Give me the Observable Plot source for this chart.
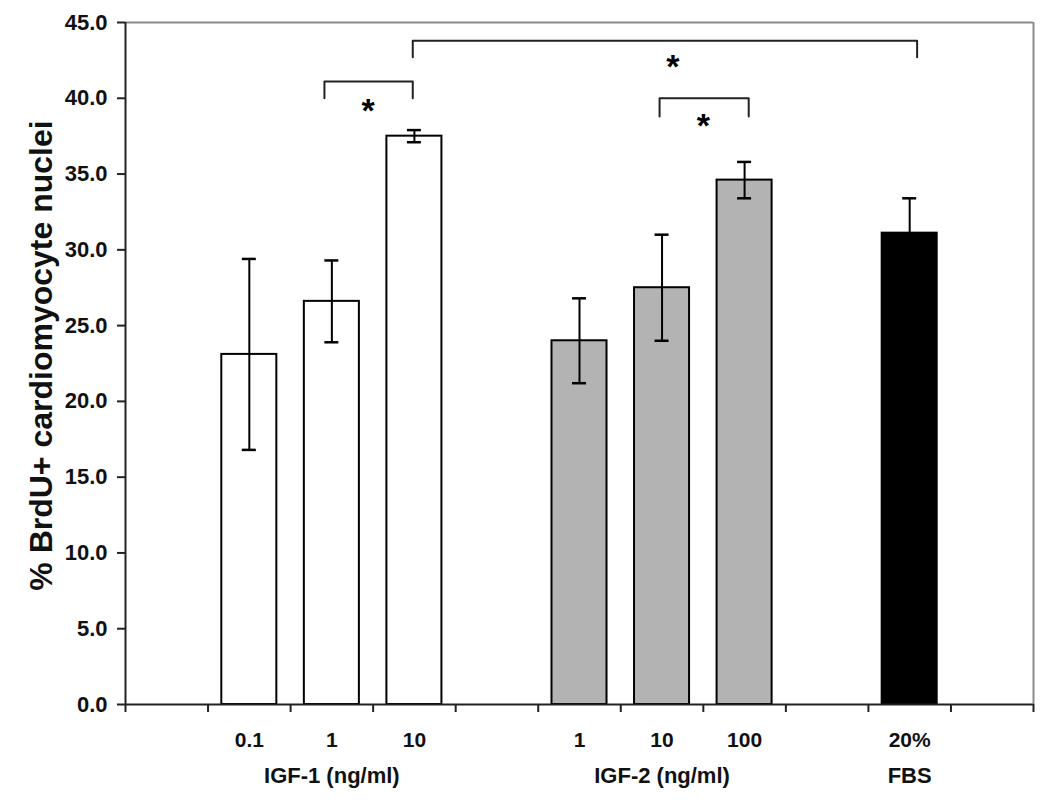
<!DOCTYPE html>
<html>
<head>
<meta charset="utf-8">
<script src="https://cdn.jsdelivr.net/npm/d3@7"></script>
<script src="https://cdn.jsdelivr.net/npm/@observablehq/plot@0.6"></script>
<style>
  html, body { margin: 0; padding: 0; background: #fff; }
  #chart { width: 1050px; height: 807px; }
</style>
</head>
<body>
<div id="chart"></div>
<script>
// ---- Data ----
const categories = ["0.1", "1", "10", "1", "10", "100", "20%"];
const groupOf    = ["IGF-1", "IGF-1", "IGF-1", "IGF-2", "IGF-2", "IGF-2", "FBS"];
const slotOf     = [1, 2, 3, 5, 6, 7, 9];           // ordinal slot of each bar (11 slots, gaps between groups)
const values     = [23.1, 26.6, 37.5, 24.0, 27.5, 34.6, 31.1];
const errors     = [6.3, 2.7, 0.4, 2.8, 3.5, 1.2, 2.3];

const groups      = ["IGF-1", "IGF-2", "FBS"];
const groupLabels = ["IGF-1 (ng/ml)", "IGF-2 (ng/ml)", "FBS"];
const groupSlot   = [2, 6, 9];                       // centre slot of each group label
const groupFills  = ["#ffffff", "#b3b3b3", "#000000"];

const yTicks = [0, 5, 10, 15, 20, 25, 30, 35, 40, 45];
const slotTicks = [0, 1, 2, 3, 4, 5, 6, 7, 8, 9, 10, 11];

// significance brackets (x in slot units, y in % units)
const bracketFrom = [2.41, 3.48, 6.47];
const bracketTo   = [3.48, 9.59, 7.55];
const bracketTop  = [41.1, 43.8, 40.0];
const bracketArm  = [40.0, 42.7, 38.8];
const starX       = [2.94, 6.63, 7.0];
const starY       = [39.6, 42.55, 38.6];

const yTitle = "% BrdU+ cardiomyocyte nuclei";

// ---- Build tables ----
const rows = categories.map((c, i) => ({
  cat: c, group: groupOf[i], slot: slotOf[i], value: values[i],
  lo: values[i] - errors[i], hi: values[i] + errors[i]
}));
const groupRows = groupLabels.map((g, i) => ({label: g, slot: groupSlot[i]}));
const bracketPts = [];
bracketFrom.forEach((f, i) => {
  bracketPts.push({b: i, x: f, y: bracketArm[i]});
  bracketPts.push({b: i, x: f, y: bracketTop[i]});
  bracketPts.push({b: i, x: bracketTo[i], y: bracketTop[i]});
  bracketPts.push({b: i, x: bracketTo[i], y: bracketArm[i]});
});
const stars = starX.map((x, i) => ({x, y: starY[i]}));

const slotW = (1050 - 125 - 17) / 11;
const barInset = slotW / 6;
const capInset = (slotW - 14) / 2;

const chart = Plot.plot({
  width: 1050,
  height: 807,
  marginLeft: 125,
  marginRight: 17,
  marginTop: 22,
  marginBottom: 103,
  style: {fontFamily: "'Liberation Sans', Arial, sans-serif", color: "#111", background: "#fff"},
  x: {type: "linear", domain: [0, 11], axis: null},
  y: {domain: [0, 45], axis: null},
  color: {type: "ordinal", domain: groups, range: groupFills},
  marks: [
    // frame
    Plot.ruleY([45], {stroke: "#8c8c8c", strokeWidth: 2}),
    Plot.ruleX([11], {stroke: "#8c8c8c", strokeWidth: 2}),
    // axes
    Plot.axisY({ticks: yTicks, tickSize: 8, tickPadding: 10, tickFormat: d => d.toFixed(1),
      fontSize: 22, fontWeight: "bold", label: null, stroke: "#222", strokeWidth: 2}),
    Plot.axisX({ticks: slotTicks, tickSize: 8, tickFormat: () => "", label: null, stroke: "#222", strokeWidth: 2}),
    // bars
    Plot.rectY(rows, {x1: "slot", x2: d => d.slot + 1, y: "value", fill: "group",
      stroke: "#000", strokeWidth: 2, insetLeft: barInset, insetRight: barInset}),
    // error bars
    Plot.ruleX(rows, {x: d => d.slot + 0.5, y1: "lo", y2: "hi", stroke: "#000", strokeWidth: 2}),
    Plot.ruleY(rows, {x1: "slot", x2: d => d.slot + 1, y: "hi", stroke: "#000", strokeWidth: 2.5, insetLeft: capInset, insetRight: capInset}),
    Plot.ruleY(rows, {x1: "slot", x2: d => d.slot + 1, y: "lo", stroke: "#000", strokeWidth: 2.5, insetLeft: capInset, insetRight: capInset}),
    // axis lines
    Plot.ruleX([0], {stroke: "#222", strokeWidth: 2}),
    Plot.ruleY([0], {stroke: "#222", strokeWidth: 2}),
    // significance brackets
    Plot.line(bracketPts, {x: "x", y: "y", z: "b", stroke: "#222", strokeWidth: 2, curve: "linear"}),
    Plot.text(stars, {x: "x", y: "y", text: () => "*", fontSize: 34, fontWeight: "bold", dy: 7, fill: "#000"}),
    // category labels
    Plot.text(rows, {x: d => d.slot + 0.5, y: 0, text: "cat", dy: 36, fontSize: 21, fontWeight: "bold", fill: "#111"}),
    Plot.text(groupRows, {x: d => d.slot + 0.5, y: 0, text: "label", dy: 71, fontSize: 22, fontWeight: "bold", fill: "#111"}),
    // y title
    Plot.text([yTitle], {frameAnchor: "left", textAnchor: "middle", dx: -84, dy: -8, rotate: -90, fontSize: 32, fontWeight: "bold", fill: "#111"})
  ]
});
document.getElementById("chart").appendChild(chart);
</script>
</body>
</html>
